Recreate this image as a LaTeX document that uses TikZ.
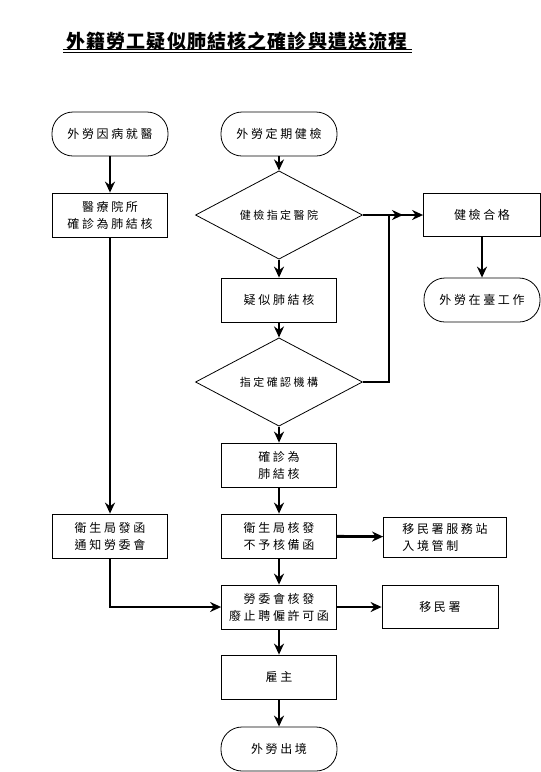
\documentclass[tikz,border=0pt]{standalone}
\usepackage{fontspec}
\newfontfamily\cjk[LetterSpace=22]{Noto Sans CJK TC}
\newfontfamily\cjktitle[LetterSpace=6]{Noto Sans CJK TC}
\usetikzlibrary{shapes.geometric,arrows.meta}

\begin{document}
\begin{tikzpicture}[x=1pt, y=-1pt, >={Stealth[length=11pt,width=10pt]}, %设置箭头均为stealth类型
    every node/.style={font=\cjk\fontsize{12}{17}\selectfont, align=center},
    term/.style={draw, line width=0.8pt, rounded corners=21pt, minimum width=116pt, minimum height=44pt},
    proc/.style={draw, line width=0.8pt, minimum width=115pt, minimum height=44pt},
    cond/.style={draw, line width=0.8pt, diamond, minimum width=167pt, minimum height=71pt, inner sep=0pt, font=\cjk\fontsize{11}{14}\selectfont},
    flow/.style={->, line width=2.8pt}]
    \useasboundingbox (0,0) rectangle (541,772);
    %标题及双下划线
    \node[font=\cjktitle\bfseries\fontsize{19}{23}\selectfont] (title) at (237,41) {外籍勞工疑似肺結核之確診與遣送流程};
    \draw[line width=1pt] (63,49.5) -- (412,49.5);
    \draw[line width=1pt] (63,52.8) -- (412,52.8);

    %左列:因病就醫
    \node[term] (ill) at (110,134) {外勞因病就醫};
    \node[proc] (hosp) at (110,215) {醫療院所\\確診為肺結核};
    \node[proc] (notice) at (110,536) {衛生局發函\\通知勞委會};

    %中列:定期健檢
    \node[term] (check) at (279,134) {外勞定期健檢};
    \node[cond] (desig) at (279,215) {健檢指定醫院};
    \node[proc] (susp) at (279,300) {疑似肺結核};
    \node[cond] (confirm) at (279,382) {指定確認機構};
    \node[proc] (tb) at (279,465) {確診為\\肺結核};
    \node[proc] (deny) at (279,536) {衛生局核發\\不予核備函};
    \node[proc] (revoke) at (279,607) {勞委會核發\\廢止聘僱許可函};
    \node[proc] (boss) at (279,677) {雇主};
    \node[term] (leave) at (279,749) {外勞出境};

    %右列
    \node[proc, minimum width=117pt, minimum height=43pt] (pass) at (482,215) {健檢合格};
    \node[term] (work) at (482,300) {外勞在臺工作};
    \node[proc, minimum width=123pt, minimum height=40pt, align=left] (station) at (445,537) {移民署服務站\\入境管制};
    \node[proc, minimum width=116pt, minimum height=43pt] (immig) at (440,607) {移民署};

    \coordinate (back) at (389,215);
    \coordinate (tip) at (403,215);

    %连线
    \draw[flow] (ill) -- (hosp);
    \draw[flow] (hosp) -- (notice);
    \draw[flow] (check) -- (desig);
    \draw[flow] (desig) -- (pass);
    \draw[flow] (pass) -- (work);
    \draw[flow] (desig) -- (susp);
    \draw[flow] (susp) -- (confirm);
    \draw[flow] (confirm.east) -| (back) -- (tip); %由确认机构折回健检合格
    \draw[flow] (confirm) -- (tb);
    \draw[flow] (tb) -- (deny);
    \draw[flow] (deny) -- (station);
    \draw[flow] (deny) -- (revoke);
    \draw[flow] (notice) |- (revoke);
    \draw[flow] (revoke) -- (immig);
    \draw[flow] (revoke) -- (boss);
    \draw[flow] (boss) -- (leave);
\end{tikzpicture}
\end{document}
